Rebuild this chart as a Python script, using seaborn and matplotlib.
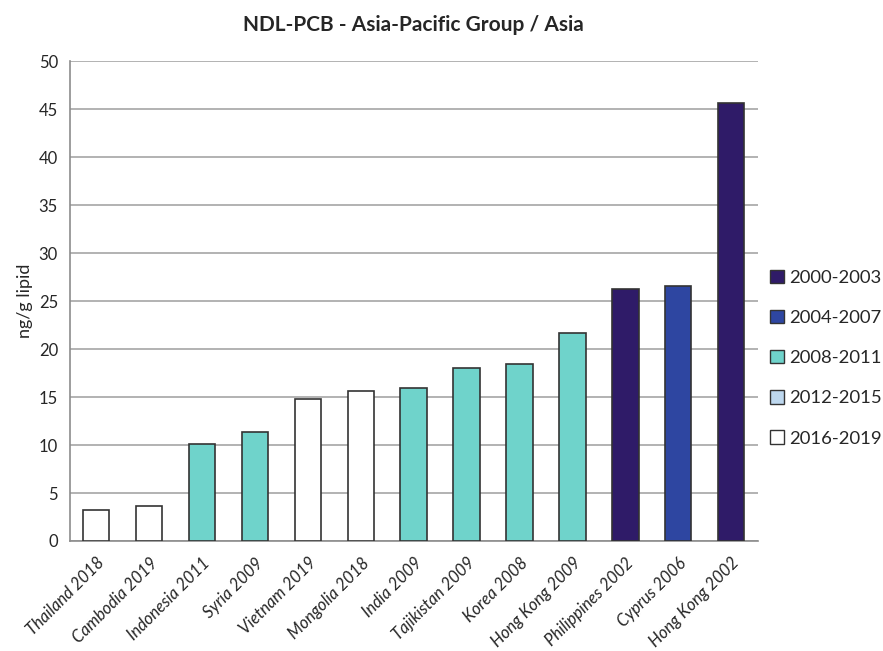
import matplotlib
matplotlib.use("Agg")
import matplotlib.pyplot as plt
from matplotlib.patches import Patch
import numpy as np
import pandas as pd
import seaborn as sns

# Data
countries = ['Thailand 2018', 'Cambodia 2019', 'Indonesia 2011', 'Syria 2009',
             'Vietnam 2019', 'Mongolia 2018', 'India 2009', 'Tajikistan 2009',
             'Korea 2008', 'Hong Kong 2009', 'Philippines 2002', 'Cyprus 2006',
             'Hong Kong 2002']
values = [3.2, 3.65, 10.1, 11.35, 14.75, 15.6, 15.95, 18.0, 18.4, 21.7, 26.3, 26.6, 45.6]
periods = ['2016-2019', '2016-2019', '2008-2011', '2008-2011', '2016-2019', '2016-2019',
           '2008-2011', '2008-2011', '2008-2011', '2008-2011', '2000-2003', '2004-2007',
           '2000-2003']
period_order = ['2000-2003', '2004-2007', '2008-2011', '2012-2015', '2016-2019']
period_colors = ['#2f1b68', '#2e46a1', '#6fd3cb', '#bdd7ee', '#ffffff']

df = pd.DataFrame({'country': countries, 'value': values, 'period': periods})
palette = dict(zip(period_order, period_colors))

sns.set_style('white')
plt.rcParams['font.family'] = ['Lato', 'DejaVu Sans']

fig = plt.figure(figsize=(8.83, 6.51), dpi=100)
ax = fig.add_axes([0.079, 0.169, 0.779, 0.737])

sns.barplot(data=df, x='country', y='value', hue='period', hue_order=period_order,
            palette=palette, saturation=1, dodge=False, width=0.5, edgecolor='#333333',
            linewidth=1.2, legend=False, ax=ax, zorder=3)

ax.set_ylim(0, 50)
ax.set_xlim(-0.5, len(countries) - 0.5)
ax.set_yticks(np.arange(0, 51, 5))
ax.yaxis.grid(True, color='#a6a6a6', linewidth=1.2, zorder=0)
ax.set_axisbelow(True)

for s in ['top', 'right']:
    ax.spines[s].set_visible(False)
for s in ['left', 'bottom']:
    ax.spines[s].set_color('#8c8c8c')
    ax.spines[s].set_linewidth(1.2)

ax.set_xticks(np.arange(len(countries)))
ax.set_xticklabels(countries, rotation=45, ha='right', rotation_mode='anchor',
                   fontsize=12, style='italic')
ax.set_xticks(np.arange(-0.5, len(countries)), minor=True)
ax.tick_params(axis='x', which='major', length=0, pad=10)
ax.tick_params(axis='x', which='minor', length=5, color='#8c8c8c', width=1.2)
ax.tick_params(axis='y', length=5, color='#8c8c8c', width=1.2, labelsize=12)

ax.set_xlabel('')
ax.set_ylabel('ng/g lipid', fontsize=13)
ax.set_title('NDL-PCB - Asia-Pacific Group / Asia', fontsize=15, fontweight='bold', pad=22)

handles = [Patch(facecolor=c, edgecolor='#333333', label=p)
           for p, c in zip(period_order, period_colors)]
fig.legend(handles=handles, loc='center left', bbox_to_anchor=(0.872, 0.45),
           frameon=False, fontsize=13.3, handlelength=0.75, handleheight=0.75,
           handletextpad=0.3, labelspacing=1.3, borderaxespad=0, borderpad=0)

fig.savefig('out.png', dpi=100)
